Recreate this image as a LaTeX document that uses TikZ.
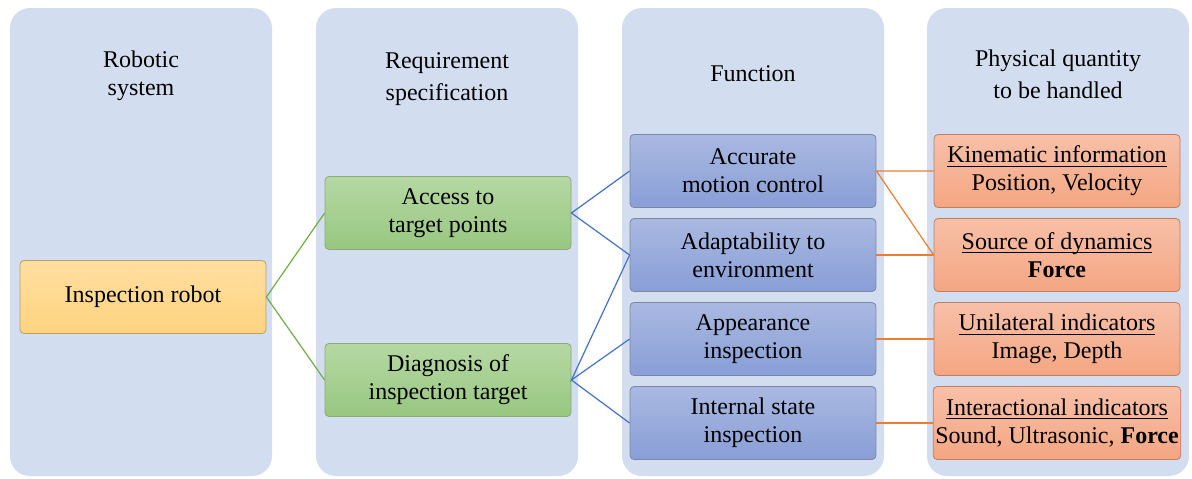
\documentclass[tikz,border=0pt]{standalone}
\usepackage{amsmath}
\usepackage{fontspec}
\setmainfont{Liberation Serif}
\usetikzlibrary{positioning}

\definecolor{colbg}{RGB}{210,222,239}
\definecolor{lnGreen}{RGB}{112,173,71}
\definecolor{lnBlue}{RGB}{68,114,196}
\definecolor{lnOrange}{RGB}{237,125,49}

\newcommand{\ulhead}[1]{\underline{\smash[b]{#1}}}

\tikzset{
  column/.style={fill=colbg, rounded corners=10pt, minimum width=131pt, minimum height=234pt, inner sep=0pt},
  title/.style={align=center},
  box/.style={draw, rounded corners=2pt, align=center, minimum width=123pt, minimum height=36.5pt, inner sep=1pt},
  robotbox/.style={box, draw={rgb,255:red,190;green,160;blue,100}, top color={rgb,255:red,255;green,222;blue,160}, bottom color={rgb,255:red,255;green,212;blue,128}},
  reqbox/.style={box, draw={rgb,255:red,140;green,170;blue,115}, top color={rgb,255:red,182;green,216;blue,164}, bottom color={rgb,255:red,152;green,199;blue,128}},
  funcbox/.style={box, draw={rgb,255:red,125;green,135;blue,165}, top color={rgb,255:red,170;green,185;blue,225}, bottom color={rgb,255:red,136;green,158;blue,214}},
  qtybox/.style={box, draw={rgb,255:red,195;green,125;blue,95}, top color={rgb,255:red,247;green,192;blue,168}, bottom color={rgb,255:red,244;green,166;blue,130}},
  link/.style={line width=0.6pt}
}

\begin{document}
\begin{tikzpicture}[x=0.5pt, y=-0.5pt, font=\fontsize{12}{14}\selectfont]
  \useasboundingbox (0,0) rectangle (1192,478);

  % Column backgrounds
  \node[column] (colsys)  at (141,242) {};
  \node[column] (colreq)  at (447,242) {};
  \node[column] (colfunc) at (753,242) {};
  \node[column] (colqty)  at (1058,242) {};

  % Column titles
  \node[title] (tsys)  at (141,76)  {Robotic\\system};
  \node[title] (treq)  at (447,79)  {Requirement\\[2pt]specification};
  \node[title] (tfunc) at (753,74)  {Function};
  \node[title] (tqty)  at (1058,74) {Physical quantity\\[2pt]to be handled};

  % Robotic system
  \node[robotbox] (robot) at (143,297) {Inspection robot};

  % Requirements
  \node[reqbox] (access)    at (448,213) {Access to\\target points};
  \node[reqbox] (diagnosis) at (448,380) {Diagnosis of\\inspection target};

  % Functions
  \node[funcbox] (accurate) at (753,171) {Accurate\\motion control};
  \node[funcbox] (adapt)    at (753,255) {Adaptability to\\environment};
  \node[funcbox] (appear)   at (753,339) {Appearance\\inspection};
  \node[funcbox] (internal) at (753,423) {Internal state\\inspection};

  % Physical quantities
  \node[qtybox] (kinem)    at (1057,171) {\ulhead{Kinematic information}\\Position, Velocity};
  \node[qtybox] (source)   at (1057,255) {\ulhead{Source of dynamics}\\\textbf{Force}};
  \node[qtybox] (unilat)   at (1057,339) {\ulhead{Unilateral indicators}\\Image, Depth};
  \node[qtybox] (interact) at (1057,423) {\ulhead{Interactional indicators}\\Sound, Ultrasonic, \textbf{Force}};

  % Connectors
  \draw[link, lnGreen] (access.west) -- (robot.east) -- (diagnosis.west);
  \draw[link, lnBlue] (accurate.west) -- (access.east) -- (adapt.west);
  \draw[link, lnBlue] (adapt.west) -- (diagnosis.east) -- (appear.west);
  \draw[link, lnBlue] (diagnosis.east) -- (internal.west);
  \draw[link, lnOrange] (kinem.west) -- (accurate.east) -- (source.west);
  \draw[link, lnOrange] (adapt.east) -- (source.west);
  \draw[link, lnOrange] (appear.east) -- (unilat.west);
  \draw[link, lnOrange] (internal.east) -- (interact.west);
\end{tikzpicture}
\end{document}
